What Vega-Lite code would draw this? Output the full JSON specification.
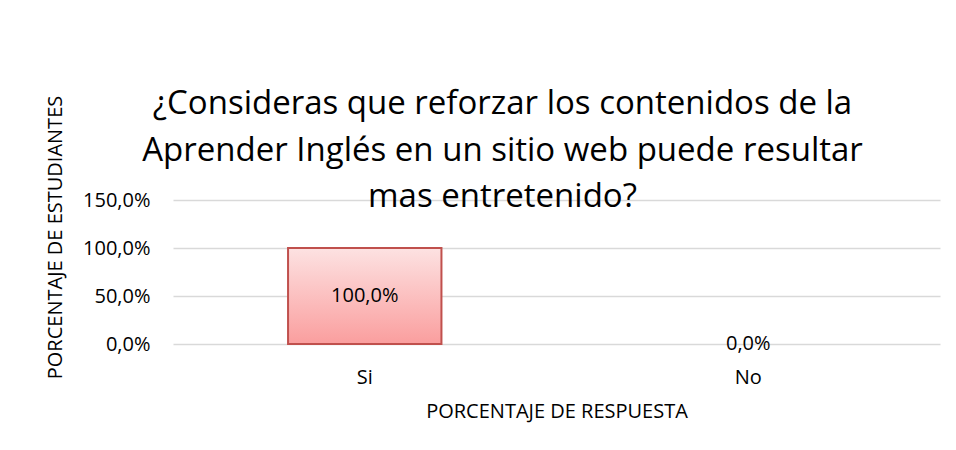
{
  "$schema": "https://vega.github.io/schema/vega-lite/v6.json",
  "autosize": {"type": "none"},
  "width": 767,
  "height": 144,
  "padding": {"left": 173, "top": 200, "right": 16, "bottom": 106},
  "background": "white",
  "config": {
    "view": {"stroke": null},
    "locale": {"number": {"decimal": ",", "thousands": ".", "grouping": [3], "currency": ["", " €"]}},
    "font": "Open Sans"
  },
  "title": {
    "text": ["¿Consideras que reforzar los contenidos de la", "Aprender Inglés en un sitio web puede resultar", "mas entretenido?"],
    "font": "Open Sans",
    "fontSize": 33,
    "fontWeight": "normal",
    "color": "#000000",
    "anchor": "middle",
    "frame": "group",
    "baseline": "alphabetic",
    "dx": -54,
    "offset": -145,
    "lineHeight": 46.5
  },
  "data": {
    "values": [
      {"respuesta": "Si", "pct": 1.0},
      {"respuesta": "No", "pct": 0.0}
    ]
  },
  "encoding": {
    "x": {
      "field": "respuesta",
      "type": "nominal",
      "sort": ["Si", "No"],
      "scale": {"paddingInner": 0.6, "paddingOuter": 0.3},
      "axis": {
        "title": "PORCENTAJE DE RESPUESTA",
        "titleFont": "Open Sans",
        "titleFontSize": 20,
        "titleFontWeight": "normal",
        "titleColor": "#000000",
        "titlePadding": 14,
        "labelFont": "Open Sans",
        "labelFontSize": 20,
        "labelColor": "#000000",
        "labelAngle": 0,
        "labelPadding": 23,
        "ticks": false,
        "domain": false
      }
    }
  },
  "layer": [
    {
      "mark": {
        "type": "bar",
        "stroke": "#c0504d",
        "strokeWidth": 2,
        "color": {
          "gradient": "linear",
          "x1": 0, "y1": 0, "x2": 0, "y2": 1,
          "stops": [
            {"offset": 0, "color": "#fde2e2"},
            {"offset": 1, "color": "#fa9e9e"}
          ]
        }
      },
      "encoding": {
        "strokeOpacity": {"condition": {"test": "datum.pct == 0", "value": 0}, "value": 1},
        "y": {
          "field": "pct",
          "type": "quantitative",
          "scale": {"domain": [0, 1.5], "nice": false},
          "axis": {
            "values": [0, 0.5, 1.0, 1.5],
            "format": ".1%",
            "title": "PORCENTAJE DE ESTUDIANTES",
            "titleFont": "Open Sans",
            "titleFontSize": 20,
            "titleFontWeight": "normal",
            "titleColor": "#000000",
            "titleAngle": -90,
            "titleX": -112,
            "titleY": 37,
            "titleAlign": "center",
            "titleBaseline": "alphabetic",
            "labelFont": "Open Sans",
            "labelFontSize": 20,
            "labelColor": "#000000",
            "labelPadding": 23,
            "ticks": false,
            "domain": false,
            "grid": true,
            "gridColor": "#d9d9d9",
            "gridWidth": 1.5
          }
        }
      }
    },
    {
      "transform": [{"calculate": "datum.pct / 2", "as": "mid"}],
      "mark": {"type": "text", "baseline": "middle", "align": "center", "fontSize": 20, "font": "Open Sans", "color": "#000000"},
      "encoding": {
        "y": {"field": "mid", "type": "quantitative"},
        "text": {"field": "pct", "type": "quantitative", "format": ".1%"}
      }
    }
  ]
}
